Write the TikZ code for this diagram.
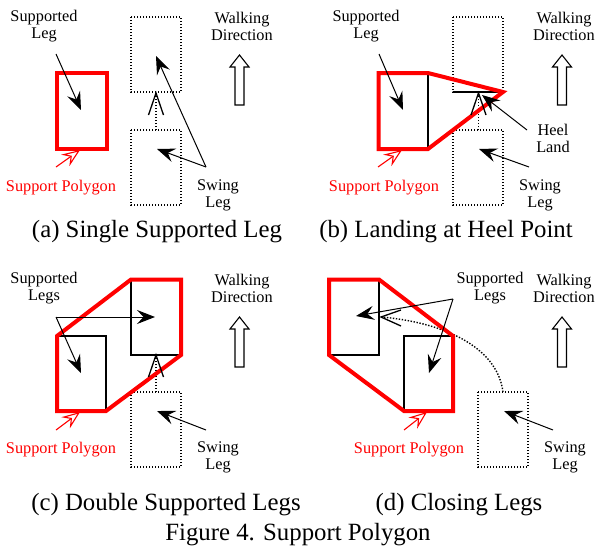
\documentclass[tikz,border=0pt]{standalone}
\usepackage{fontspec}
\setmainfont{Liberation Serif}
\usetikzlibrary{arrows.meta}
\tikzset{
  lbl/.style={align=center,inner sep=0pt,yshift=-1.5pt,font=\fontsize{16.3}{17}\selectfont},
  redlbl/.style={lbl,text=red},
  captext/.style={inner sep=0pt,yshift=-1.5pt,font=\fontsize{24.8}{26}\selectfont},
  poly/.style={draw=red,line width=4pt,line join=miter},
  solidleg/.style={draw=black,line width=1.4pt},
  dotleg/.style={draw=black,line width=1.4pt,dash pattern=on 1.4pt off 1.6pt},
  callout/.style={draw=black,line width=1pt,-{Stealth[length=18pt,width=14pt,inset=6.5pt]}},
  redcall/.style={draw=red,line width=1.1pt,-{Stealth[length=18pt,width=14pt,inset=6.5pt,fill=white]}},
  openhead/.style={draw=black,line width=1.3pt},
  hollow/.style={draw=black,line width=1.1pt,fill=white,line join=miter}
}
\newcommand{\walkarrow}[2]{%
  \draw[hollow] (#1,#2) -- ++(9.5,12) -- ++(-5,0) -- ++(0,38) -- ++(-9,0) -- ++(0,-38) -- ++(-5,0) -- cycle;}
\begin{document}
\begin{tikzpicture}[x=1pt,y=-1pt]
\useasboundingbox (0,0) rectangle (597,549);
% ---------- (a)
\coordinate (a1) at (131,17); \coordinate (a2) at (181,92);
\coordinate (a3) at (131,130); \coordinate (a4) at (181,205);
\draw[poly] (56.5,73) rectangle (107,148.5);
\draw[dotleg] (a1) rectangle (a2);
\draw[dotleg] (a3) rectangle (a4);
\coordinate (atip) at (156,93);
\draw[dotleg] (156,130) -- (atip);
\draw[openhead] (148.5,115) -- (atip) -- (163.5,115);
\node[lbl] (aSup) at (44,25) {Supported\\Leg};
\node[lbl] (aWalk) at (242,25) {Walking\\Direction};
\node[redlbl] (aPoly) at (61,186) {Support Polygon};
\node[lbl] (aSwing) at (218,194) {Swing\\Leg};
\node[captext] (aCap) at (157,230) {(a) Single Supported Leg};
\coordinate (aS0) at (56,54); \coordinate (aS1) at (81,110);
\draw[callout] (aS0) -- (aS1);
\coordinate (aW0) at (206,167); \coordinate (aW1) at (156,56); \coordinate (aW2) at (157,149);
\draw[callout] (aW0) -- (aW1);
\draw[callout] (aW0) -- (aW2);
\coordinate (aR0) at (56,167); \coordinate (aR1) at (80,150);
\draw[redcall] (aR0) -- (aR1);
\walkarrow{239.5}{55}
% ---------- (b)
\coordinate (b1) at (453,17); \coordinate (b2) at (503,92);
\coordinate (b3) at (453,130); \coordinate (b4) at (503,205);
\draw[dotleg] (b1) rectangle (b2);
\draw[dotleg] (b3) rectangle (b4);
\draw[solidleg] (453,92) -- (503,92);
\draw[solidleg] (428,73) -- (428,149);
\coordinate (btip) at (478.5,93);
\draw[dotleg] (478.5,130) -- (btip);
\draw[poly] (378.5,73) -- (428,73) -- (503,92) -- (428,149) -- (378.5,149) -- cycle;
\draw[openhead] (471,115) -- (btip) -- (486,115);
\node[lbl] (bSup) at (366,25) {Supported\\Leg};
\node[lbl] (bWalk) at (564,25) {Walking\\Direction};
\node[redlbl] (bPoly) at (384,186) {Support Polygon};
\node[lbl] (bSwing) at (540,194) {Swing\\Leg};
\node[lbl] (bHeel) at (553,136.5) {Heel\\Land};
\node[captext] (bCap) at (446,230) {(b) Landing at Heel Point};
\coordinate (bS0) at (379,54); \coordinate (bS1) at (403,110);
\draw[callout] (bS0) -- (bS1);
\coordinate (bW0) at (529,167); \coordinate (bW1) at (479,149);
\draw[callout] (bW0) -- (bW1);
\coordinate (bH0) at (527,130); \coordinate (bH1) at (482,95);
\draw[callout] (bH0) -- (bH1);
\coordinate (bR0) at (378,167); \coordinate (bR1) at (402,150);
\draw[redcall] (bR0) -- (bR1);
\walkarrow{562}{55}
% ---------- (c)
\coordinate (c3) at (131,392); \coordinate (c4) at (181,467);
\draw[dotleg] (c3) rectangle (c4);
\draw[solidleg] (131,280) -- (131,355) -- (181,355);
\draw[solidleg] (57,336) -- (106,336) -- (106,411);
\coordinate (ctip) at (156,355);
\draw[dotleg] (156,392) -- (ctip);
\draw[poly] (131,279.5) -- (181,279.5) -- (181,355) -- (106,411) -- (57,411) -- (57,336) -- cycle;
\draw[openhead] (148.5,377) -- (ctip) -- (163.5,377);
\node[lbl] (cSup) at (44,287) {Supported\\Legs};
\node[lbl] (cWalk) at (242,287) {Walking\\Direction};
\node[redlbl] (cPoly) at (61,448) {Support Polygon};
\node[lbl] (cSwing) at (218,456) {Swing\\Leg};
\node[captext] (cCap) at (166,503) {(c) Double Supported Legs};
\coordinate (cS0) at (56,317); \coordinate (cS1) at (155,317); \coordinate (cS2) at (81,373);
\draw[callout] (cS0) -- (cS1);
\draw[callout] (cS0) -- (cS2);
\coordinate (cW0) at (206,430); \coordinate (cW1) at (157,411);
\draw[callout] (cW0) -- (cW1);
\coordinate (cR0) at (56,430); \coordinate (cR1) at (80,412);
\draw[redcall] (cR0) -- (cR1);
\walkarrow{239.5}{317}
% ---------- (d)
\coordinate (d3) at (478,392); \coordinate (d4) at (528,467);
\draw[dotleg] (d3) rectangle (d4);
\draw[solidleg] (379,280) -- (379,355) -- (329,355);
\draw[solidleg] (404,411) -- (404,336) -- (453,336);
\coordinate (dtip) at (381,317);
\draw[dotleg] (503,392) .. controls (497,345) and (440,322) .. (dtip);
\draw[poly] (329,279.5) -- (379,279.5) -- (453,336) -- (453,411) -- (404,411) -- (329,355) -- cycle;
\draw[openhead] (401,326) -- (dtip) -- (401,310);
\node[lbl] (dSup) at (490,287) {Supported\\Legs};
\node[lbl] (dWalk) at (564,287) {Walking\\Direction};
\node[redlbl] (dPoly) at (409,448) {Support Polygon};
\node[lbl] (dSwing) at (565,456) {Swing\\Leg};
\node[captext] (dCap) at (459,503) {(d) Closing Legs};
\coordinate (dS0) at (453,299); \coordinate (dS1) at (356,316); \coordinate (dS2) at (429,373);
\draw[callout] (dS0) -- (dS1);
\draw[callout] (dS0) -- (dS2);
\coordinate (dW0) at (553,430); \coordinate (dW1) at (504,411);
\draw[callout] (dW0) -- (dW1);
\coordinate (dR0) at (404,430); \coordinate (dR1) at (427,412);
\draw[redcall] (dR0) -- (dR1);
\walkarrow{562}{317}
% ---------- figure caption
\node[captext] (figCap) at (298,533.5) {Figure 4. Support Polygon};
\end{tikzpicture}
\end{document}
